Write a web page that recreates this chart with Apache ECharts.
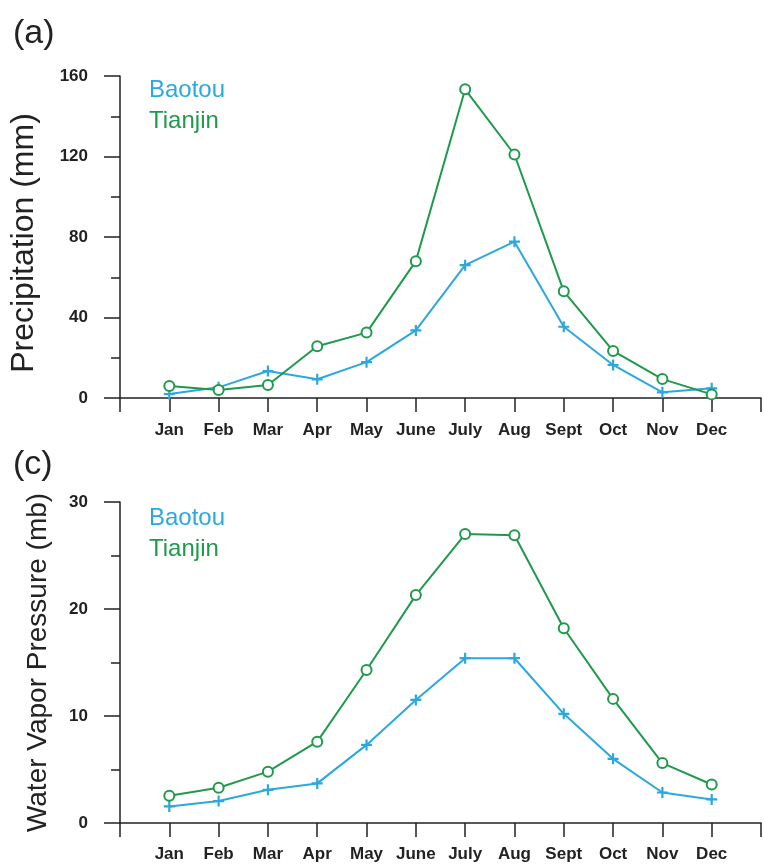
<!DOCTYPE html>
<html>
<head>
<meta charset="utf-8">
<script src="https://cdn.jsdelivr.net/npm/echarts@6/dist/echarts.min.js"></script>
<style>html,body{margin:0;padding:0;background:#fff}#c{width:764px;height:866px}</style>
</head>
<body>
<div id="c"></div>
<script>
var months = ['Jan','Feb','Mar','Apr','May','June','July','Aug','Sept','Oct','Nov','Dec'];
var precipBaotou  = [2, 5.3, 13.4, 9.3, 17.8, 33.6, 66, 77.7, 35.4, 16.4, 2.8, 4.8];
var precipTianjin = [6, 4, 6.5, 25.7, 32.5, 68, 153.4, 121, 53, 23.4, 9.4, 1.8];
var vaporBaotou   = [1.55, 2.05, 3.1, 3.7, 7.3, 11.5, 15.4, 15.4, 10.2, 6.0, 2.85, 2.2];
var vaporTianjin  = [2.55, 3.3, 4.8, 7.6, 14.3, 21.3, 27.0, 26.9, 18.2, 11.6, 5.6, 3.6];
var precipTicks = [0, 40, 80, 120, 160];
var vaporTicks = [0, 10, 20, 30];

var BLUE = '#2aa8df', GREEN = '#1f9a4d', AX = '#222';
var FONT = 'Liberation Sans, Arial, sans-serif';
function pts(arr){ return arr.map(function(v,i){ return [i+1, v]; }); }
var plusPath = 'path://M4,0H6V4H10V6H6V10H4V6H0V4H4Z';

function xAxis(grid, margin){
  return {
    type:'value', gridIndex:grid, min:0, max:13, interval:1,
    axisLine:{onZero:false, lineStyle:{color:AX, width:1.5}},
    axisTick:{inside:false, length:14, lineStyle:{color:AX, width:1.5}},
    axisLabel:{margin:margin, fontFamily:FONT, fontSize:17, fontWeight:'bold', color:AX,
      formatter:function(v){ return (v>=1 && v<=12) ? months[v-1] : ''; }},
    splitLine:{show:false}
  };
}
function yAxis(grid, ticks, name, fs, gap, pad){
  return {
    type:'value', gridIndex:grid, min:ticks[0], max:ticks[ticks.length-1], interval:ticks[1]-ticks[0],
    name:name, nameLocation:'middle', nameGap:gap,
    nameTextStyle:{fontFamily:FONT, fontSize:fs, color:AX, padding:pad},
    axisLine:{show:true, lineStyle:{color:AX, width:1.5}},
    axisTick:{show:true, length:16, lineStyle:{color:AX, width:1.5}},
    minorTick:{show:true, splitNumber:2, length:9, lineStyle:{color:AX, width:1.5}},
    axisLabel:{margin:32, fontFamily:FONT, fontSize:17, fontWeight:'bold', color:AX},
    splitLine:{show:false}
  };
}
function lineSeries(name, data, grid, color, circle){
  return {
    type:'line', name:name, xAxisIndex:grid, yAxisIndex:grid, data:pts(data),
    symbol: circle ? 'emptyCircle' : plusPath,
    symbolSize: circle ? 10 : 11,
    lineStyle:{color:color, width:2},
    itemStyle:{color:color, borderColor:color, borderWidth: circle ? 2 : 0},
    emphasis:{disabled:true}, animation:false
  };
}
function legend(top){
  return {
    orient:'vertical', left:138, top:top, itemWidth:0, itemHeight:0, itemGap:7,
    selectedMode:false,
    textStyle:{fontFamily:FONT, fontSize:24},
    data:[{name:'Baotou', textStyle:{color:BLUE}}, {name:'Tianjin', textStyle:{color:GREEN}}]
  };
}

var chart = echarts.init(document.getElementById('c'), null, {renderer:'canvas'});
chart.setOption({
  backgroundColor:'#fff',
  animation:false,
  title:[
    {text:'(a)', left:8, top:12, textStyle:{fontFamily:FONT, fontSize:34, fontWeight:'normal', color:AX}},
    {text:'(c)', left:8, top:443, textStyle:{fontFamily:FONT, fontSize:34, fontWeight:'normal', color:AX}}
  ],
  legend:[legend(73), legend(501)],
  grid:[
    {left:120, top:76, width:643, height:322},
    {left:120, top:502, width:643, height:321}
  ],
  xAxis:[xAxis(0, 24), xAxis(1, 23)],
  yAxis:[
    yAxis(0, precipTicks, 'Precipitation (mm)', 32, 80, [0,12,0,0]),
    yAxis(1, vaporTicks, 'Water Vapor Pressure (mb)', 28, 68, [0,0,0,0])
  ],
  series:[
    lineSeries('Baotou', precipBaotou, 0, BLUE, false),
    lineSeries('Tianjin', precipTianjin, 0, GREEN, true),
    lineSeries('Baotou', vaporBaotou, 1, BLUE, false),
    lineSeries('Tianjin', vaporTianjin, 1, GREEN, true)
  ]
});
</script>
</body>
</html>
